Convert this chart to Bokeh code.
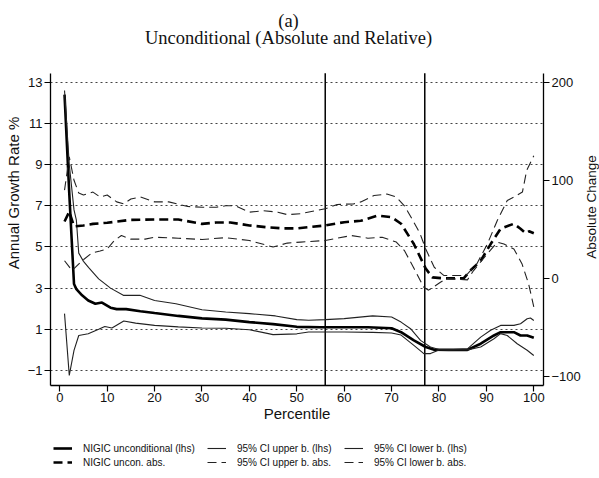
import math
from bokeh.plotting import figure
from bokeh.layouts import row, column
from bokeh.models import (Range1d, LinearAxis, Legend, LegendItem, Label,
                          FixedTicker)
from bokeh.embed import file_html
from bokeh.resources import INLINE

# ---------------- data ----------------
# NIGIC unconditional (lhs) - annual growth rate %
g_x = [1, 2, 3, 3.5, 4.7, 6, 7.5, 8.9, 10.7, 12, 14, 17, 20, 25, 30, 35, 40, 45,
       50, 55, 60, 65, 70, 72, 74.7, 77.2, 79, 82, 86, 88.8, 91.6, 93, 95.8,
       97.2, 98.6, 100]
g_y = [12.4, 7.6, 3.2, 2.95, 2.65, 2.4, 2.24, 2.3, 2.05, 1.98, 1.98, 1.88, 1.79,
       1.65, 1.53, 1.47, 1.35, 1.25, 1.12, 1.1, 1.1, 1.1, 1.05, 0.86, 0.46, 0.14,
       0.01, 0.0, 0.0, 0.3, 0.7, 0.86, 0.86, 0.7, 0.7, 0.59]

# 95% CI upper b. (lhs)
gu_x = [1, 2, 3, 3.5, 4, 5, 6.1, 8.2, 10.7, 13.4, 16.9, 20, 24.5, 30, 35, 40,
        45.5, 50, 52.5, 56, 60, 66, 70, 72, 74, 76.1, 78.2, 80, 82, 86, 88.8,
        90.9, 93, 95.8, 97.2, 98.6, 99.3, 100]
gu_y = [12.6, 9.0, 6.8, 6.3, 4.7, 4.3, 4.0, 3.45, 3.0, 2.65, 2.65, 2.4, 2.24,
        1.95, 1.84, 1.76, 1.65, 1.47, 1.44, 1.47, 1.52, 1.65, 1.6, 1.35, 1.03,
        0.46, 0.14, 0.02, 0.0, 0.05, 0.62, 0.95, 1.19, 1.19, 1.27, 1.51, 1.55,
        1.43]

# 95% CI lower b. (lhs)
gl_x = [1, 2, 3, 4, 6, 8.2, 9.5, 11, 13.5, 16, 20, 25, 30, 35, 40, 45, 50, 52.5,
        60, 66, 70, 72, 74.7, 76.8, 78.2, 80, 86, 88.8, 91.6, 93, 94.4, 96.5,
        98.6, 100]
gl_y = [1.76, -1.24, -0.02, 0.7, 0.78, 1.0, 1.14, 1.06, 1.4, 1.3, 1.19, 1.12,
        1.06, 1.05, 0.98, 0.74, 0.78, 0.87, 0.87, 0.85, 0.82, 0.72, 0.22, -0.18,
        -0.18, 0.0, 0.0, 0.14, 0.54, 0.79, 0.7, 0.3, -0.02, -0.27]

# NIGIC uncon. abs. (rhs) - absolute change
a_x = [1, 2, 3, 5, 7, 10, 15, 20, 25, 30, 33, 36, 40, 44, 47, 50, 56, 60, 63.5,
       67, 70, 72, 74.7, 77.2, 78.6, 81, 85.2, 86.6, 88.8, 90.9, 93, 95.8, 97.2,
       98.3, 99, 100]
a_y = [58, 68, 53, 54, 55.6, 56.7, 59.7, 60, 60, 55.6, 57, 57, 54, 52, 51, 51,
       54, 57.3, 58.7, 64, 62.4, 55.7, 35, 10, 1, 0, 0, 8, 18, 35, 50.6, 55.7,
       50.6, 46, 48, 46]

# 95% CI upper b. abs. (rhs)
au_x = [1, 2, 3, 4, 5, 7, 8.5, 10, 12, 13.5, 15, 17, 20, 23, 27, 30, 33, 35, 37,
        40, 43, 46, 48, 50.8, 56, 58.5, 62, 63.5, 66.3, 69, 71, 72.7, 74.5, 76,
        77.2, 79, 81, 85.7, 88, 90.2, 92.3, 94.4, 95.8, 97.6, 98.5, 100]
au_y = [90, 124, 100, 87, 85, 88, 83, 85, 78, 76, 81, 83, 78, 78, 73.3, 72.6,
        72.6, 74, 74, 67.5, 69, 67.5, 65, 66, 71, 75.3, 76, 78, 84.5, 86, 83, 74,
        59, 45.7, 30, 11.4, 3, 3, 15, 35, 59, 79.4, 83, 88, 110, 125]

# 95% CI lower b. abs. (rhs)
al_x = [1, 2.6, 4.7, 6.8, 8.5, 10, 11.5, 13, 15, 18, 20, 25, 30, 35, 40, 45, 48,
        50.8, 56, 61.5, 65, 68, 71, 72.7, 74.6, 76.8, 77.8, 80.3, 81.7, 86, 87.3,
        90.2, 92.3, 93.7, 95.8, 97.5, 98.9, 100]
al_y = [18, 8, 18, 26, 28, 30, 38.6, 43.7, 40, 40, 42, 41, 39.7, 41.5, 38.6, 32,
        36, 37, 38.6, 43.7, 41, 42, 37, 28.4, 11.4, -9, -12, -4, 0, -1.5, 8, 25,
        37, 35, 30, 15, -5.5, -29]

vlines = [56, 77]
x_ticks = [0, 10, 20, 30, 40, 50, 60, 70, 80, 90, 100]
left_ticks = [-1, 1, 3, 5, 7, 9, 11, 13]
right_ticks = [-100, 0, 100, 200]

labels = ["NIGIC unconditional (lhs)", "95% CI upper b. (lhs)",
          "95% CI lower b. (lhs)", "NIGIC uncon. abs.",
          "95% CI upper b. abs.", "95% CI lower b. abs."]
title_lines = ["(a)", "Unconditional (Absolute and Relative)"]
right_label = "Absolute Change"

series = [(g_x, g_y, "default"), (gu_x, gu_y, "default"),
          (gl_x, gl_y, "default"), (a_x, a_y, "abs"),
          (au_x, au_y, "abs"), (al_x, al_y, "abs")]

# ---------------- geometry ----------------
W_MAIN, W_SIDE, H_MAIN, H_LEG = 584, 15, 425, 53
FRAME_L, FRAME_R, PLOT_TOP, FRAME_B = 50, 543, 72.7, 385
X_LO, X_HI = -1.96, -1.96 + (FRAME_R - FRAME_L) / 4.74
L_LO, L_HI = -1.73, 13.44
R_LO, R_HI = -109.2, 209.2
plot_h = FRAME_B - PLOT_TOP
l_upp = (L_HI - L_LO) / plot_h          # left-axis units per pixel
L_TOP = L_HI + PLOT_TOP * l_upp         # frame extends up to hold titles
R_TOP = R_HI + PLOT_TOP * (R_HI - R_LO) / plot_h

SANS = "Liberation Sans"
SERIF = "Liberation Serif"

p = figure(width=W_MAIN, height=H_MAIN, output_backend="svg",
           toolbar_location=None,
           x_range=Range1d(X_LO, X_HI), y_range=Range1d(L_LO, L_TOP),
           min_border_left=FRAME_L, min_border_right=W_MAIN - FRAME_R,
           min_border_top=0, min_border_bottom=H_MAIN - FRAME_B)
p.extra_y_ranges = {"abs": Range1d(R_LO, R_TOP)}
p.outline_line_color = None
p.background_fill_color = "white"
p.border_fill_color = "white"

# grid
p.xgrid.visible = False
p.ygrid.ticker = FixedTicker(ticks=left_ticks)
p.ygrid.grid_line_color = "#444444"
p.ygrid.grid_line_dash = "2 3"
p.ygrid.grid_line_width = 1


def style_axis(ax):
    ax.axis_line_color = "black"
    ax.axis_line_width = 1.3
    ax.major_tick_line_color = "black"
    ax.major_tick_line_width = 1.2
    ax.major_tick_out = 6
    ax.major_tick_in = 0
    ax.minor_tick_line_color = None
    ax.major_label_text_font = SANS
    ax.major_label_text_font_size = "13px"
    ax.major_label_text_color = "#111111"
    ax.major_label_standoff = 2
    ax.axis_label_text_font = SANS
    ax.axis_label_text_font_size = "15px"
    ax.axis_label_text_font_style = "normal"
    ax.axis_label_text_color = "#111111"
    ax.axis_label_standoff = 0


xa = p.xaxis[0]
xa.ticker = FixedTicker(ticks=x_ticks)
xa.axis_label = "Percentile"
style_axis(xa)
xa.major_label_standoff = 1

ya = p.yaxis[0]
ya.ticker = FixedTicker(ticks=left_ticks)
ya.axis_label = "Annual Growth Rate %"
ya.bounds = (L_LO, L_HI)
style_axis(ya)
ya.axis_label_standoff = 3

ra = LinearAxis(y_range_name="abs", ticker=FixedTicker(ticks=right_ticks),
                bounds=(R_LO, R_HI))
style_axis(ra)
p.add_layout(ra, "right")

# vertical reference lines (span the plot area only)
p.segment(x0=vlines, y0=[L_LO] * len(vlines), x1=vlines,
          y1=[L_HI] * len(vlines), line_color="black", line_width=1.5)

# titles, placed in the head room above the plot area
title_cx = (288 - 59.3) / 4.74
for txt, py in zip(title_lines, [20.0, 37.5]):
    p.add_layout(Label(x=title_cx, y=L_HI + (PLOT_TOP - py) * l_upp,
                       text=txt, text_font=SERIF, text_font_size="18.5px",
                       text_align="center", text_baseline="middle",
                       text_color="#111111"))

# series styles
styles = [dict(line_color="black", line_width=2.6),
          dict(line_color="#222222", line_width=1.1),
          dict(line_color="#222222", line_width=1.1),
          dict(line_color="black", line_width=2.6, line_dash="9 5"),
          dict(line_color="#222222", line_width=1.1, line_dash="9 5"),
          dict(line_color="#222222", line_width=1.1, line_dash="9 5")]

for (sx, sy, rng), st in zip(series, styles):
    p.line(sx, sy, y_range_name=rng, **st)

# narrow strip on the right for the right-hand axis title (reads bottom-up)
p2 = figure(width=W_SIDE, height=H_MAIN, output_backend="svg",
            toolbar_location=None, x_axis_type=None, y_axis_type=None,
            x_range=Range1d(0, W_SIDE), y_range=Range1d(0, H_MAIN),
            min_border=0)
p2.outline_line_color = None
p2.background_fill_color = "white"
p2.border_fill_color = "white"
p2.add_layout(Label(x=7.4, y=H_MAIN - 228, text=right_label,
                    angle=math.pi / 2, text_font=SANS,
                    text_font_size="13.5px", text_align="center",
                    text_baseline="middle", text_color="#111111"))

# legend strip under the chart: key lines reuse each series' data and style,
# with the strip's own ranges set so the data itself stays out of view
p3 = figure(width=W_SIDE + W_MAIN, height=H_LEG, output_backend="svg",
            toolbar_location=None, x_axis_type=None, y_axis_type=None,
            x_range=Range1d(-30, -20), y_range=Range1d(-500, -400),
            min_border=0)
p3.outline_line_color = None
p3.background_fill_color = "white"
p3.border_fill_color = "white"
col_x = [53, 207, 344]
row_y = [24, 10]
for i, lab in enumerate(labels):
    sx, sy, _ = series[i]
    key = p3.line(sx, sy, **styles[i])
    leg = Legend(items=[LegendItem(label=lab, renderers=[key])],
                 location=(col_x[i % 3], row_y[i // 3]),
                 glyph_width=19, glyph_height=12, label_height=12,
                 label_standoff=11, spacing=0, padding=0, margin=0,
                 label_text_font=SANS, label_text_font_size="10px",
                 label_text_color="#111111", border_line_color=None,
                 background_fill_alpha=0)
    p3.add_layout(leg)

layout = column(row(p, p2), p3)
open("out.html", "w").write(file_html(layout, INLINE))
